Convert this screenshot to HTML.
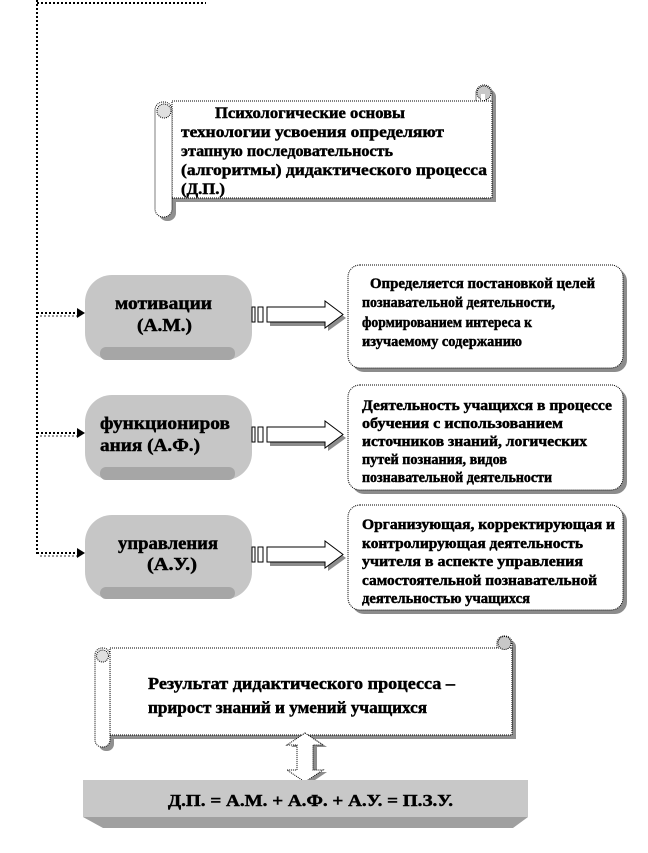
<!DOCTYPE html>
<html><head><meta charset="utf-8"><style>
html,body{margin:0;padding:0;background:#fff;}
svg{display:block}
text{font-family:"Liberation Serif","DejaVu Serif",serif;font-weight:bold;fill:#000;stroke:#000;stroke-width:0.45px}
</style></head><body>
<svg width="648" height="853" viewBox="0 0 648 853" xmlns="http://www.w3.org/2000/svg">
<!-- dotted frame lines -->
<line x1="37" y1="3" x2="206" y2="3" stroke="#000" stroke-width="2" stroke-dasharray="2 2"/>
<line x1="37" y1="0" x2="37" y2="554" stroke="#000" stroke-width="2" stroke-dasharray="2 2"/>

<!-- connectors -->
<g>
<line x1="40" y1="316" x2="80" y2="316" stroke="#999" stroke-width="2" stroke-dasharray="2 2"/>
<line x1="37" y1="313" x2="79" y2="313" stroke="#000" stroke-width="2" stroke-dasharray="2 2"/>
<polygon points="77,308 85,313 77,318" fill="#000"/>
<line x1="40" y1="436" x2="80" y2="436" stroke="#999" stroke-width="2" stroke-dasharray="2 2"/>
<line x1="37" y1="433" x2="79" y2="433" stroke="#000" stroke-width="2" stroke-dasharray="2 2"/>
<polygon points="77,428 85,433 77,438" fill="#000"/>
<line x1="40" y1="556" x2="80" y2="556" stroke="#999" stroke-width="2" stroke-dasharray="2 2"/>
<line x1="37" y1="553" x2="79" y2="553" stroke="#000" stroke-width="2" stroke-dasharray="2 2"/>
<polygon points="77,548 85,553 77,558" fill="#000"/>
</g>

<!-- Scroll 1 -->
<g>
<rect x="176" y="105" width="320" height="97" fill="#909090"/>
<rect x="480" y="89" width="16" height="113" rx="8" fill="#909090"/>
<rect x="159" y="106" width="17" height="115" rx="8" fill="#909090"/>
<rect x="476" y="85" width="16" height="113" rx="8" fill="#fff" stroke="#000" stroke-dasharray="1 1"/>
<rect x="172" y="101" width="320" height="97" fill="#fff" stroke="#000" stroke-dasharray="1 1"/>
<circle cx="484" cy="93" r="7" fill="#c8c8c8" stroke="#000" stroke-dasharray="1 1"/>
<rect x="481" y="94" width="4" height="6" fill="#fff"/>
<rect x="155" y="102" width="17" height="115" rx="8" fill="#fff" stroke="#000" stroke-dasharray="1 1"/>
<circle cx="164" cy="111" r="7" fill="#e0e0e0" stroke="#000" stroke-dasharray="1 1"/>
<text x="215" y="118" font-size="16" textLength="190" lengthAdjust="spacingAndGlyphs">Психологические основы</text>
<text x="181" y="137" font-size="16" textLength="263" lengthAdjust="spacingAndGlyphs">технологии усвоения определяют</text>
<text x="181" y="156" font-size="16" textLength="212" lengthAdjust="spacingAndGlyphs">этапную последовательность</text>
<text x="181" y="175" font-size="16" textLength="306" lengthAdjust="spacingAndGlyphs">(алгоритмы) дидактического процесса</text>
<text x="181" y="194" font-size="16" textLength="44" lengthAdjust="spacingAndGlyphs">(Д.П.)</text>
</g>

<!-- Pills -->
<g>
<rect x="85" y="275" width="167" height="85" rx="27" fill="#c6c6c6"/>
<rect x="100" y="347" width="135" height="13" rx="6" fill="#a6a6a6"/>
<text x="115" y="309" font-size="18" textLength="97" lengthAdjust="spacingAndGlyphs">мотивации</text>
<text x="137" y="331" font-size="18" textLength="55" lengthAdjust="spacingAndGlyphs">(А.М.)</text>

<rect x="85" y="395" width="167" height="85" rx="27" fill="#c6c6c6"/>
<rect x="100" y="467" width="135" height="13" rx="6" fill="#a6a6a6"/>
<text x="100" y="429" font-size="18" textLength="130" lengthAdjust="spacingAndGlyphs">функциониров</text>
<text x="100" y="451" font-size="18" textLength="100" lengthAdjust="spacingAndGlyphs">ания (А.Ф.)</text>

<rect x="85" y="515" width="167" height="84" rx="27" fill="#c6c6c6"/>
<rect x="100" y="587" width="135" height="12" rx="6" fill="#a6a6a6"/>
<text x="118" y="549" font-size="18" textLength="100" lengthAdjust="spacingAndGlyphs">управления</text>
<text x="147" y="570" font-size="18" textLength="50" lengthAdjust="spacingAndGlyphs">(А.У.)</text>
</g>

<!-- Block arrows -->
<g>
<polygon points="270,311 328,311 328,305 346,318 328,331 328,326 270,326" fill="#8c8c8c"/>
<rect x="252" y="307" width="3" height="15" fill="#fff" stroke="#000" stroke-width="1"/>
<rect x="258" y="307" width="5" height="15" fill="#fff" stroke="#000" stroke-width="1"/>
<polygon points="267,307 325,307 325,301 343,314.5 325,328 325,322 267,322" fill="#fff" stroke="#000" stroke-width="1"/>

<polygon points="270,431 328,431 328,425 346,438 328,451 328,446 270,446" fill="#8c8c8c"/>
<rect x="252" y="427" width="3" height="15" fill="#fff" stroke="#000" stroke-width="1"/>
<rect x="258" y="427" width="5" height="15" fill="#fff" stroke="#000" stroke-width="1"/>
<polygon points="267,427 325,427 325,421 343,434.5 325,448 325,442 267,442" fill="#fff" stroke="#000" stroke-width="1"/>

<polygon points="270,551 328,551 328,545 346,558 328,571 328,566 270,566" fill="#8c8c8c"/>
<rect x="252" y="547" width="3" height="15" fill="#fff" stroke="#000" stroke-width="1"/>
<rect x="258" y="547" width="5" height="15" fill="#fff" stroke="#000" stroke-width="1"/>
<polygon points="267,547 325,547 325,541 343,554.5 325,568 325,562 267,562" fill="#fff" stroke="#000" stroke-width="1"/>
</g>

<!-- Boxes -->
<g>
<rect x="352" y="269" width="275" height="103" rx="12" fill="#8c8c8c"/>
<rect x="348" y="265" width="275" height="103" rx="12" fill="#fff" stroke="#000" stroke-dasharray="1 1"/>
<text x="370" y="288" font-size="14.5" textLength="225" lengthAdjust="spacingAndGlyphs">Определяется постановкой целей</text>
<text x="362" y="307" font-size="14.5" textLength="193" lengthAdjust="spacingAndGlyphs">познавательной деятельности,</text>
<text x="362" y="327" font-size="14.5" textLength="170" lengthAdjust="spacingAndGlyphs">формированием интереса к</text>
<text x="362" y="346" font-size="14.5" textLength="160" lengthAdjust="spacingAndGlyphs">изучаемому  содержанию</text>

<rect x="352" y="389" width="275" height="105" rx="12" fill="#8c8c8c"/>
<rect x="348" y="385" width="275" height="105" rx="12" fill="#fff" stroke="#000" stroke-dasharray="1 1"/>
<text x="362" y="410" font-size="14.5" textLength="250" lengthAdjust="spacingAndGlyphs">Деятельность учащихся  в процессе</text>
<text x="362" y="428" font-size="14.5" textLength="201" lengthAdjust="spacingAndGlyphs">обучения с использованием</text>
<text x="362" y="446" font-size="14.5" textLength="225" lengthAdjust="spacingAndGlyphs">источников знаний, логических</text>
<text x="362" y="464" font-size="14.5" textLength="145" lengthAdjust="spacingAndGlyphs">путей познания, видов</text>
<text x="362" y="482" font-size="14.5" textLength="190" lengthAdjust="spacingAndGlyphs">познавательной деятельности</text>

<rect x="352" y="509" width="275" height="105" rx="12" fill="#8c8c8c"/>
<rect x="348" y="505" width="275" height="105" rx="12" fill="#fff" stroke="#000" stroke-dasharray="1 1"/>
<text x="362" y="529" font-size="14.5" textLength="253" lengthAdjust="spacingAndGlyphs">Организующая, корректирующая  и</text>
<text x="362" y="548" font-size="14.5" textLength="221" lengthAdjust="spacingAndGlyphs">контролирующая  деятельность</text>
<text x="362" y="566" font-size="14.5" textLength="221" lengthAdjust="spacingAndGlyphs">учителя в аспекте управления</text>
<text x="362" y="585" font-size="14.5" textLength="235" lengthAdjust="spacingAndGlyphs">самостоятельной познавательной</text>
<text x="362" y="603" font-size="14.5" textLength="168" lengthAdjust="spacingAndGlyphs">деятельностью учащихся</text>
</g>

<!-- Scroll 2 -->
<g>
<rect x="99" y="652" width="417" height="87" fill="#909090"/>
<rect x="501" y="640" width="15" height="99" rx="7" fill="#909090"/>
<rect x="99" y="652" width="15" height="99" rx="7" fill="#909090"/>
<rect x="497" y="636" width="15" height="99" rx="7" fill="#fff" stroke="#000" stroke-dasharray="1 1"/>
<rect x="110" y="648" width="402" height="87" fill="#fff" stroke="#000" stroke-dasharray="1 1"/>
<circle cx="504.5" cy="643" r="6.5" fill="#c8c8c8" stroke="#000" stroke-dasharray="1 1"/>
<rect x="95" y="648" width="15" height="99" rx="7" fill="#fff" stroke="#000" stroke-dasharray="1 1"/>
<circle cx="102.5" cy="656" r="6" fill="#e0e0e0" stroke="#000" stroke-dasharray="1 1"/>
<text x="148" y="689" font-size="16.5" textLength="307" lengthAdjust="spacingAndGlyphs">Результат дидактического процесса –</text>
<text x="148" y="713" font-size="16.5" textLength="279" lengthAdjust="spacingAndGlyphs">прирост знаний  и умений учащихся</text>
</g>

<!-- Double arrow -->
<g>
<polygon points="309,735 327,747 317,747 317,772 327,772 309,784 291,772 301,772 301,747 291,747" fill="#8c8c8c"/>
<polygon points="305,733 323,745 313,745 313,770 323,770 305,782 287,770 297,770 297,745 287,745" fill="#fff" stroke="#000" stroke-dasharray="1 1"/>
</g>

<!-- Bottom bar -->
<g>
<rect x="83" y="780" width="445" height="37" fill="#c8c8c8"/>
<polygon points="83,817 528,817 513,828 103,828" fill="#a0a0a0"/>
<text x="168" y="806" font-size="17" textLength="285" lengthAdjust="spacingAndGlyphs">Д.П. = А.М. + А.Ф. + А.У. = П.З.У.</text>
</g>
</svg>
</body></html>
